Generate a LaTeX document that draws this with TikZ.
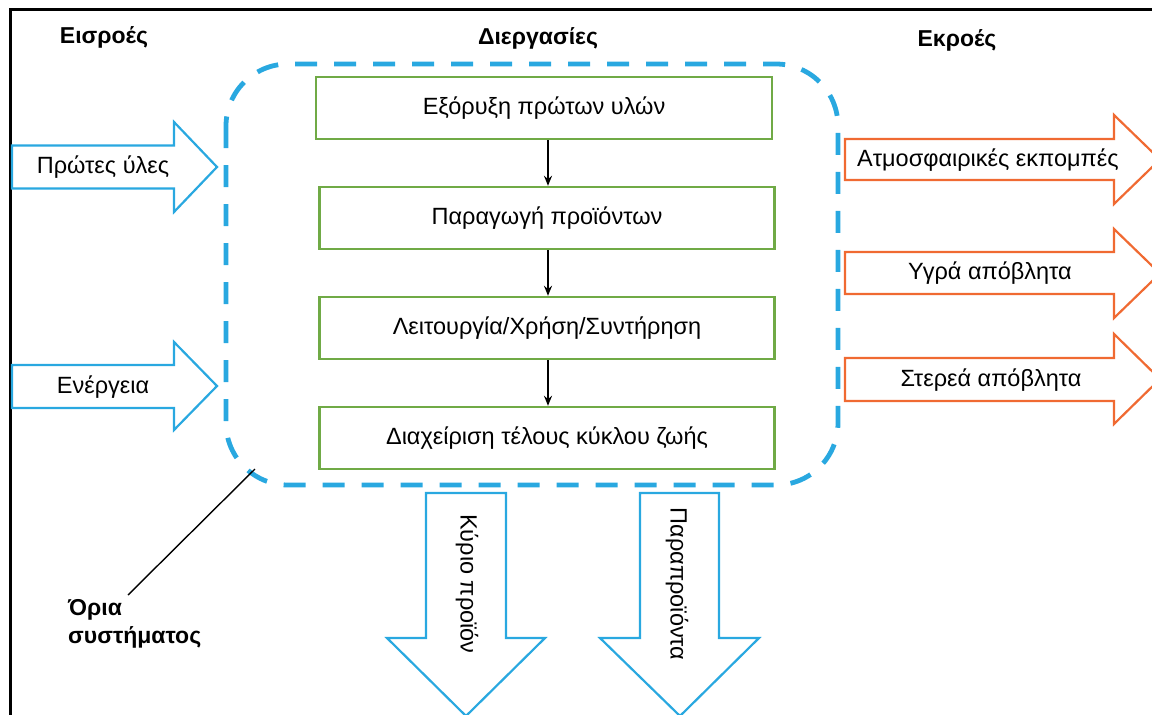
\documentclass[tikz,border=0pt]{standalone}
\usepackage{fontspec}
\setmainfont{Liberation Sans}
\usetikzlibrary{arrows.meta}
\definecolor{sysblue}{RGB}{41,168,224}
\definecolor{outorange}{RGB}{240,106,50}
\definecolor{boxgreen}{RGB}{112,170,70}
\tikzset{
  procbox/.style={draw=boxgreen, line width=2.4pt, fill=white, minimum width=455pt, minimum height=62pt, inner sep=0pt, font=\fontsize{23.5}{28}\selectfont},
  flow/.style={-{Stealth[length=10pt,width=8pt]}, line width=1.8pt, black},
  inarrow/.style={draw=sysblue, line width=2.2pt, fill=white, line join=miter},
  outarrow/.style={draw=outorange, line width=2.2pt, fill=white, line join=miter},
  arrowtext/.style={font=\fontsize{23.5}{28}\selectfont, inner sep=0pt},
  heading/.style={font=\bfseries\fontsize{23}{28}\selectfont, inner sep=0pt},
}
\begin{document}
\begin{tikzpicture}[x=1pt, y=-1pt]
\useasboundingbox (0,0) rectangle (1152,715);
\begin{scope}
\clip (0,0) rectangle (1152,715);

% outer frame
\draw[line width=3pt] (10,760) -- (10,9) -- (1200,9);

% headings
\node[heading] (hin)  at (104,37) {Εισροές};
\node[heading] (hproc) at (538,38) {Διεργασίες};
\node[heading] (hout) at (957,40) {Εκροές};

% system boundary
\draw[sysblue, line width=4.8pt, dash pattern=on 22pt off 17pt, rounded corners=62pt]
  (226,64) rectangle (838,485);
\coordinate (bnd) at (255,469);

% process chain
\node[procbox, minimum width=456pt] (p1) at (544,108) {Εξόρυξη πρώτων υλών};
\node[procbox] (p2) at (547,218) {Παραγωγή προϊόντων};
\node[procbox] (p3) at (547,328) {Λειτουργία/Χρήση/Συντήρηση};
\node[procbox] (p4) at (547,438) {Διαχείριση τέλους κύκλου ζωής};
\draw[flow] (p1.south -| 548,0) -- (p2.north -| 548,0);
\draw[flow] (p2.south -| 548,0) -- (p3.north -| 548,0);
\draw[flow] (p3.south -| 548,0) -- (p4.north -| 548,0);

% inputs
\draw[inarrow] (12,145.5) -- (174,145.5) -- (174,122) -- (217,167) -- (174,212) -- (174,188.5) -- (12,188.5) -- cycle;
\node[arrowtext] (in1) at (103,167) {Πρώτες ύλες};
\draw[inarrow] (12,365) -- (174,365) -- (174,342) -- (217,386) -- (174,430) -- (174,408) -- (12,408) -- cycle;
\node[arrowtext] (in2) at (103,387) {Ενέργεια};

% outputs
\draw[outarrow] (845,139) -- (1114,139) -- (1114,115) -- (1160,159.5) -- (1114,204) -- (1114,180) -- (845,180) -- cycle;
\node[arrowtext] (out1) at (988,160) {Ατμοσφαιρικές εκπομπές};
\draw[outarrow] (845,252) -- (1114,252) -- (1114,229) -- (1160,273.5) -- (1114,318) -- (1114,294) -- (845,294) -- cycle;
\node[arrowtext] (out2) at (990,273) {Υγρά απόβλητα};
\draw[outarrow] (845,358) -- (1114,358) -- (1114,334) -- (1160,379) -- (1114,424) -- (1114,401) -- (845,401) -- cycle;
\node[arrowtext] (out3) at (991,380) {Στερεά απόβλητα};

% products leaving downwards
\draw[inarrow] (426,493) -- (506,493) -- (506,638) -- (545,638) -- (466,716) -- (387,638) -- (426,638) -- cycle;
\node[arrowtext, rotate=-90] (prod) at (467,584) {Κύριο προϊόν};
\draw[inarrow] (640,493) -- (719,493) -- (719,638) -- (759,638) -- (680,716) -- (600,638) -- (640,638) -- cycle;
\node[arrowtext, rotate=-90] (byprod) at (677,584) {Παραπροϊόντα};

% boundary label
\node[heading, align=left, anchor=north west, font=\bfseries\fontsize{23}{28}\selectfont] (lbl) at (68,599) {Όρια\\συστήματος};
\coordinate (lead) at (128,595);
\draw[line width=1.4pt] (bnd) -- (lead);
\end{scope}
\end{tikzpicture}
\end{document}
